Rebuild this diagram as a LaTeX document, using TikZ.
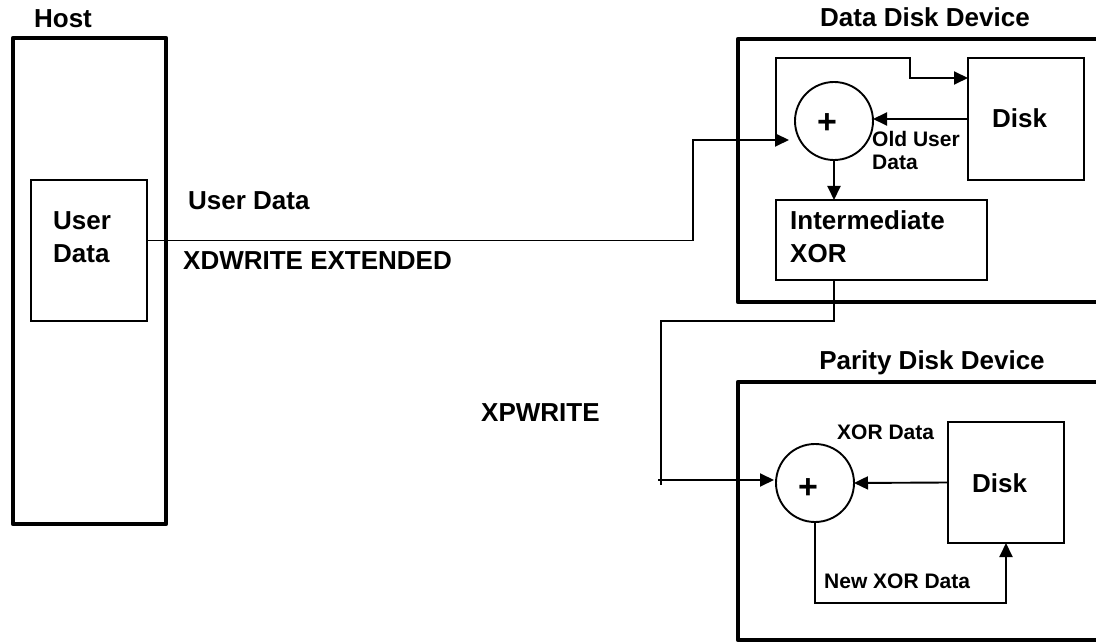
\documentclass[tikz,border=0pt]{standalone}
\usepackage{fontspec}
\setmainfont{Liberation Sans}
\usetikzlibrary{arrows.meta}
\begin{document}
\begin{tikzpicture}[x=1pt,y=-1pt,
  thinline/.style={line width=1.9pt},
  thickbox/.style={draw,line width=4.6pt,line join=round,inner sep=0pt,outer sep=0pt,anchor=north west},
  thinbox/.style={draw,line width=1.9pt,inner sep=0pt,outer sep=0pt,anchor=north west},
  arr/.style={thinline,-{Triangle[length=14pt,width=13pt]}},
  lbl/.style={font=\fontsize{26}{31}\selectfont\bfseries,inner sep=0pt,anchor=base west},
  lblsmall/.style={font=\fontsize{21}{25}\selectfont\bfseries,inner sep=0pt,anchor=base west},
  plussign/.style={font=\fontsize{34}{40}\selectfont\bfseries,inner sep=0pt,anchor=center},
  xorop/.style={draw,circle,line width=1.9pt,minimum size=78pt,inner sep=0pt,outer sep=0pt}]
\useasboundingbox (0,0) rectangle (1096,644);
\clip (0,0) rectangle (1096,644);

% --- host side ---
\node[thickbox,minimum width=153pt,minimum height=486pt] (host) at (13,38) {};
\node[lbl,anchor=base] (hostlbl) at (63,28) {Host};
\node[thinbox,minimum width=116pt,minimum height=141pt] (udbox) at (31,180) {};
\node[lbl] (udtxta) at (53,230) {User};
\node[lbl] (udtxtb) at (53,263) {Data};

% --- command labels ---
\node[lbl] (udlbl) at (188,210) {User Data};
\node[lbl] (xdwlbl) at (183,270) {XDWRITE EXTENDED};
\node[lbl] (xpwlbl) at (481,422) {XPWRITE};

% --- data disk device ---
\node[thickbox,minimum width=420pt,minimum height=263pt] (datadev) at (738,39) {};
\node[lbl,anchor=base] (datadevlbl) at (925,27) {Data Disk Device};
\node[thinbox,minimum width=116pt,minimum height=122pt] (disk1) at (968,58) {};
\node[lbl] (disk1lbl) at (992,128) {Disk};
\node[xorop] (circ1) at (834,121) {};
\node[plussign] (plus1) at (827,124) {+};
\node[lblsmall] (oldlbla) at (872,147) {Old User};
\node[lblsmall] (oldlblb) at (872,170) {Data};
\node[thinbox,minimum width=211pt,minimum height=80pt] (inter) at (776,200) {};
\node[lbl] (intertxta) at (790,230) {Intermediate};
\node[lbl] (intertxtb) at (790,263) {XOR};

% --- parity disk device ---
\node[thickbox,minimum width=420pt,minimum height=258pt] (pardev) at (738,382) {};
\node[lbl,anchor=base] (pardevlbl) at (932,370) {Parity Disk Device};
\node[thinbox,minimum width=116pt,minimum height=121pt] (disk2) at (948,422) {};
\node[lbl] (disk2lbl) at (972,492) {Disk};
\node[xorop] (circ2) at (815,483) {};
\node[plussign] (plus2) at (808,489) {+};
\node[lblsmall] (xorlbl) at (837,440) {XOR Data};
\node[lblsmall] (newxorlbl) at (824,588) {New XOR Data};

% --- XDWRITE EXTENDED: host user data to the data disk XOR ---
\coordinate (j1) at (693,140);
\draw[arr] ([yshift=10pt]udbox.east) -| (j1) -- ([xshift=-6pt,yshift=-19pt]circ1.west);
% new user data also written to the disk
\coordinate (split) at (inter.west |- j1);
\coordinate (k1) at (910,58);
\draw[arr] (split) |- (k1) |- ([yshift=-20pt]disk1.north west);
% old user data read back into the XOR
\draw[arr] (disk1.west) -- (disk1.west -| circ1.east);
\draw[arr] (circ1.south) -- (inter.north -| circ1.south);

% --- XPWRITE: intermediate XOR to the parity disk XOR ---
\coordinate (p1) at (661,321);
\coordinate (p2) at (661,480);
\draw[thinline] (inter.south -| circ1.south) |- (p1) -- (p2) -- ++(0,5);
\draw[arr] ([xshift=-3pt]p2) -- ([xshift=-2pt,yshift=3pt]circ2.west);
\draw[arr] (disk2.west) -- (circ2.east);
\path (disk2.south) ++(0,60) coordinate (l1);
\draw[arr] (circ2.south) |- (l1) -- (disk2.south);
\end{tikzpicture}
\end{document}
